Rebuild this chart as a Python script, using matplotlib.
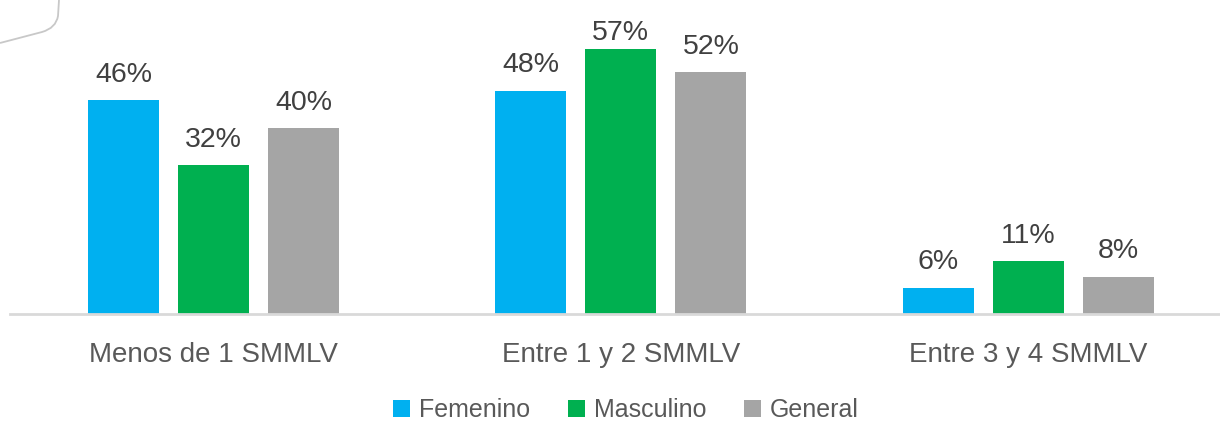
import matplotlib
matplotlib.use("Agg")
import matplotlib.pyplot as plt
from matplotlib import font_manager
from matplotlib.patches import Patch, PathPatch
from matplotlib.path import Path
import numpy as np

categories = ["Menos de 1 SMMLV", "Entre 1 y 2 SMMLV", "Entre 3 y 4 SMMLV"]
series_names = ["Femenino", "Masculino", "General"]
femenino = [46, 48, 5.6]
masculino = [32, 57, 11.3]
general = [40, 52, 8]
colors = ["#00B0F0", "#00B050", "#A5A5A5"]

avail = {f.name for f in font_manager.fontManager.ttflist}
fam = [f for f in ["Liberation Sans Narrow", "Liberation Sans", "DejaVu Sans"] if f in avail]
plt.rcParams["font.family"] = fam

W, H = 1220, 423
fig = plt.figure(figsize=(W / 100, H / 100), dpi=100)
left, right = 9.75, 1232.0
bottom_px, top_px = 314, 0
ax = fig.add_axes([left / W, (H - bottom_px) / H, (right - left) / W, (bottom_px - top_px) / H])

px_per_unit = 4.65
ytop = bottom_px / px_per_unit
x = np.arange(len(categories))
step = 0.221
width = 0.174
for i, (vals, c, name) in enumerate(zip([femenino, masculino, general], colors, series_names)):
    pos = x + (i - 1) * step
    ax.bar(pos, vals, width=width, color=c, label=name, zorder=2)
    for xp, v in zip(pos, vals):
        ylab = min(v + 18.5 / px_per_unit, ytop - 40 / px_per_unit)
        ax.text(xp, ylab, f"{v:.0f}%", ha="center", va="baseline",
                fontsize=20.5, color="#404040")

ax.set_xlim(-0.5, 2.5)
ax.set_ylim(0, ytop)
ax.set_xticks(x)
ax.set_xticklabels(categories, fontsize=20, color="#595959")
ax.tick_params(axis="x", length=0, pad=20)
ax.set_yticks([])
for s in ["top", "right", "left"]:
    ax.spines[s].set_visible(False)
ax.spines["bottom"].set_color("#D9D9D9")
ax.spines["bottom"].set_linewidth(2)

handles = [Patch(facecolor=c, edgecolor="none") for c in colors]
fig.legend(handles, series_names, loc="center", bbox_to_anchor=(626 / W, (H - 410) / H),
           ncol=3, frameon=False, fontsize=18, labelcolor="#595959",
           handlelength=0.7, handleheight=0.7, handletextpad=0.35, columnspacing=1.5)

# decorative curve in top-left corner
verts = [(0, 43), (42, 32), (56, 28), (58, 16), (59, 0)]
codes = [Path.MOVETO, Path.LINETO, Path.CURVE3, Path.CURVE3, Path.LINETO]
verts_f = [(vx / W, (H - vy) / H) for vx, vy in verts]
fig.patches.append(PathPatch(Path(verts_f, codes), transform=fig.transFigure,
                             facecolor="none", edgecolor="#C8C8C8", lw=1.3))

fig.savefig("out.png", dpi=100)
